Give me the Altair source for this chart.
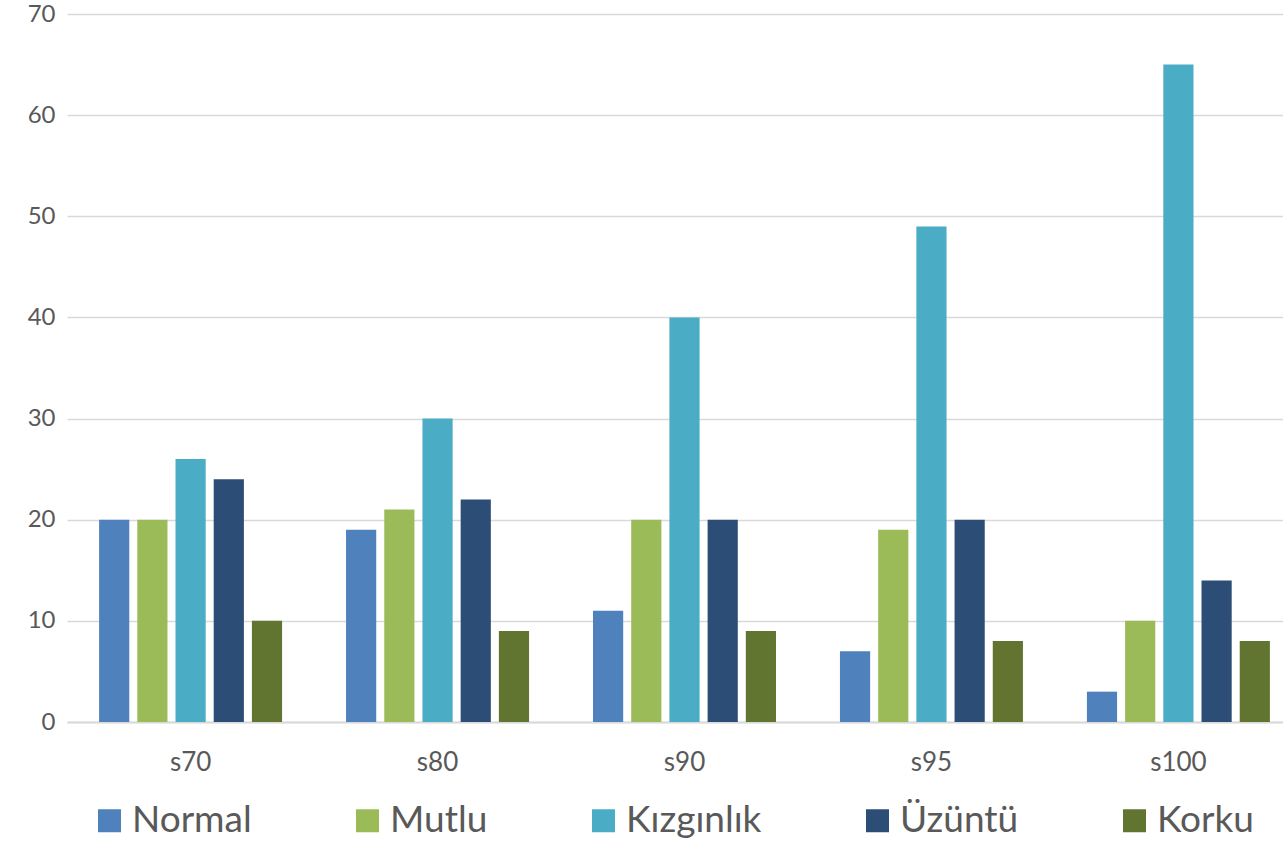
import altair as alt
import pandas as pd

categories = ["s70", "s80", "s90", "s95", "s100"]
series = ["Normal", "Mutlu", "Kızgınlık", "Üzüntü", "Korku"]
colors = ["#4F81BD", "#9BBB59", "#4BACC6", "#2C4D75", "#617531"]
values = {
    "Normal":    [20, 19, 11, 7, 3],
    "Mutlu":     [20, 21, 20, 19, 10],
    "Kızgınlık": [26, 30, 40, 49, 65],
    "Üzüntü":    [24, 22, 20, 20, 14],
    "Korku":     [10, 9, 9, 8, 8],
}

rows = []
for s in series:
    for c, v in zip(categories, values[s]):
        rows.append({"cat": c, "series": s, "value": v})
df = pd.DataFrame(rows)

FONT = "Lato"

chart = alt.Chart(df).mark_bar().encode(
    x=alt.X("cat:N", sort=categories, title=None,
            scale=alt.Scale(range=[0, 1235], paddingInner=0.259, paddingOuter=0.13),
            axis=alt.Axis(labelAngle=0, labelFontSize=26, labelColor="#595959",
                          labelFont=FONT, labelPadding=27, ticks=False,
                          domain=True, domainColor="#d9d9d9", domainWidth=2)),
    xOffset=alt.XOffset("series:N", sort=series,
                        scale=alt.Scale(paddingInner=0.21, paddingOuter=0)),
    y=alt.Y("value:Q", title=None,
            scale=alt.Scale(domain=[0, 70], nice=False),
            axis=alt.Axis(values=[0, 10, 20, 30, 40, 50, 60, 70], labelFontSize=24,
                          labelColor="#595959", labelFont=FONT, labelPadding=12,
                          ticks=False, domain=False, gridColor="#d9d9d9",
                          gridWidth=1.5)),
    color=alt.Color("series:N", sort=series,
                    scale=alt.Scale(domain=series, range=colors),
                    legend=alt.Legend(title=None, orient="none", legendX=24, legendY=788,
                                      direction="horizontal", symbolType="square",
                                      symbolSize=529, symbolStrokeWidth=0, padding=0,
                                      labelFontSize=37, labelFont=FONT,
                                      labelColor="#595959", labelOffset=4,
                                      columnPadding=97, labelLimit=400)),
).properties(
    width=1216, height=708,
    padding={"left": 67, "top": 14, "right": 0, "bottom": 121},
    autosize=alt.AutoSizeParams(type="none"),
).configure_view(stroke=None)

chart.save("out.html", embed_options={"renderer": "svg", "actions": False})
